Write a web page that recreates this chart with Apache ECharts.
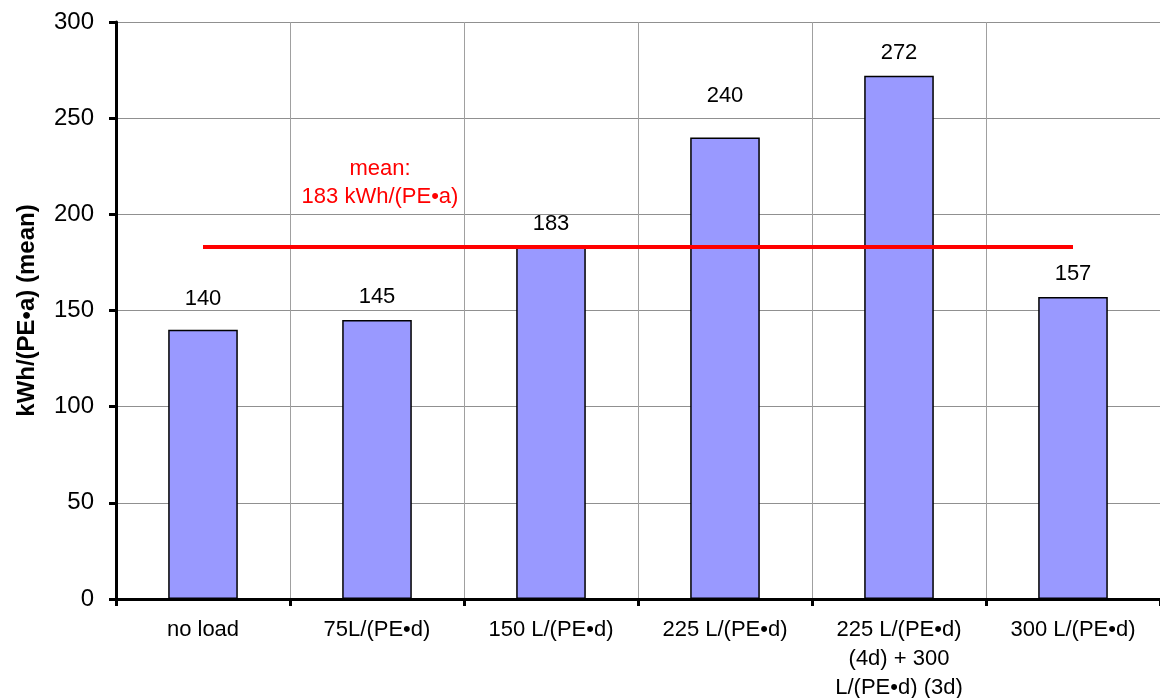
<!DOCTYPE html>
<html>
<head>
<meta charset="utf-8">
<script src="https://cdn.jsdelivr.net/npm/echarts@6/dist/echarts.min.js"></script>
<style>
  html, body { margin: 0; padding: 0; background: #fff; }
  #chart { width: 1160px; height: 698px; }
</style>
</head>
<body>
<div id="chart"></div>
<script>
const categories = [
  'no load',
  '75L/(PE•d)',
  '150 L/(PE•d)',
  '225 L/(PE•d)',
  '225 L/(PE•d)\n(4d) + 300\nL/(PE•d) (3d)',
  '300 L/(PE•d)'
];
const consumption = [140, 145, 183, 240, 272, 157];
const meanLine = [183, 183, 183, 183, 183, 183];
const meanText = 'mean:\n183 kWh/(PE•a)';
const yTicks = [0, 50, 100, 150, 200, 250, 300];

// Excel had some labels dragged a bit higher
const labelLift = [8, 0, 0, 18, 0, 0];

const font = '"Liberation Sans", Arial, sans-serif';
const chart = echarts.init(document.getElementById('chart'));

const option = {
  animation: false,
  backgroundColor: '#fff',
  textStyle: { fontFamily: font },
  grid: { left: 116, right: 0, top: 22, bottom: 99, containLabel: false, outerBoundsMode: 'none' },
  xAxis: {
    type: 'category',
    data: categories,
    boundaryGap: true,
    axisLine: { lineStyle: { color: '#000', width: 3 } },
    axisTick: { show: true, alignWithLabel: false, length: 7, lineStyle: { color: '#000', width: 3 } },
    axisLabel: { color: '#000', fontSize: 22, lineHeight: 29, margin: 16, interval: 0, fontFamily: font },
    splitLine: { show: true, lineStyle: { color: '#a0a0a0', width: 1 } }
  },
  yAxis: {
    type: 'value',
    min: yTicks[0],
    max: yTicks[yTicks.length - 1],
    interval: 50,
    name: 'kWh/(PE•a) (mean)',
    nameLocation: 'middle',
    nameGap: 77,
    nameMoveOverlap: false,
    nameTextStyle: { color: '#000', fontSize: 24, fontWeight: 'bold', fontFamily: font },
    axisLine: { show: true, lineStyle: { color: '#000', width: 3 } },
    axisTick: { show: true, length: 7, lineStyle: { color: '#000', width: 3 } },
    axisLabel: { color: '#000', fontSize: 24, margin: 22, fontFamily: font },
    splitLine: { show: true, lineStyle: { color: '#909090', width: 1 } }
  },
  series: [
    {
      type: 'bar',
      data: consumption.map((v, i) => ({
        value: v,
        label: { distance: 12 + labelLift[i] }
      })),
      barCategoryGap: '60%',
      itemStyle: { color: '#9999FF', borderColor: '#000', borderWidth: 1.5 },
      label: {
        show: true,
        position: 'top',
        color: '#000',
        fontSize: 22,
        fontFamily: font
      },
      z: 2
    },
    {
      type: 'line',
      data: meanLine,
      symbol: 'none',
      lineStyle: { color: '#ff0000', width: 4 },
      z: 5,
      markPoint: {
        symbol: 'circle',
        symbolSize: 1,
        itemStyle: { color: 'rgba(0,0,0,0)' },
        data: [{ coord: [1, meanLine[1]] }],
        label: {
          show: true,
          position: 'top',
          distance: 36,
          offset: [3, 0],
          formatter: meanText,
          color: '#ff0000',
          fontSize: 22,
          lineHeight: 28,
          fontFamily: font
        }
      }
    }
  ]
};

chart.setOption(option);
</script>
</body>
</html>
